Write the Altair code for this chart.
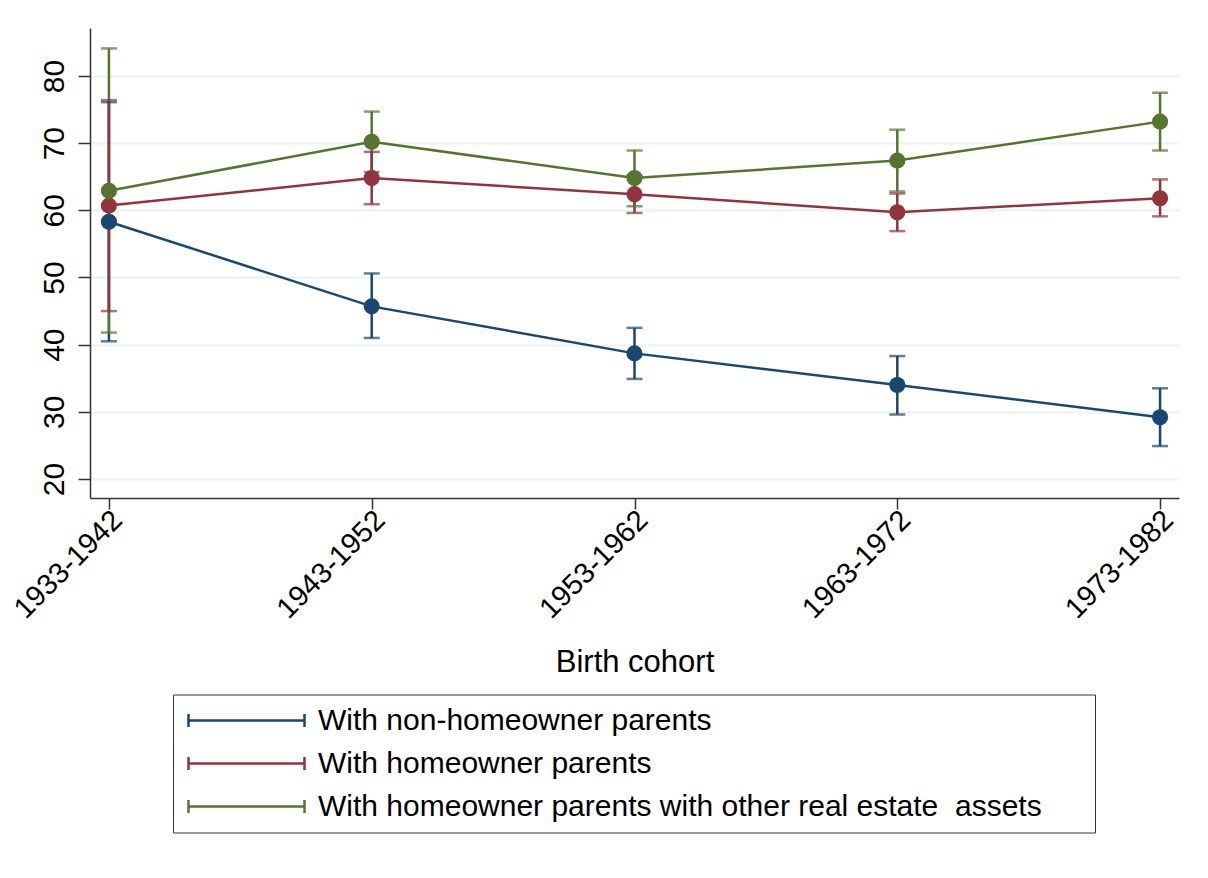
import altair as alt
import pandas as pd

cohorts = ["1933-1942", "1943-1952", "1953-1962", "1963-1972", "1973-1982"]
series = [
    "With non-homeowner parents",
    "With homeowner parents",
    "With homeowner parents with other real estate\u00a0 assets",
]
colors = ["#1a476f", "#90353b", "#55752f"]

blue_mean = [58.3, 45.7, 38.7, 34.0, 29.2]
blue_lo = [40.5, 41.0, 34.9, 29.6, 24.9]
blue_hi = [76.1, 50.6, 42.5, 38.3, 33.5]

red_mean = [60.7, 64.8, 62.4, 59.7, 61.8]
red_lo = [45.0, 60.9, 59.6, 56.9, 59.1]
red_hi = [76.4, 68.7, 65.2, 62.5, 64.6]

green_mean = [62.9, 70.2, 64.8, 67.4, 73.2]
green_lo = [41.8, 65.7, 60.6, 62.8, 68.9]
green_hi = [84.1, 74.7, 68.9, 72.0, 77.5]

y_ticks = [20, 30, 40, 50, 60, 70, 80]

rows = []
for s, m, lo, hi, draw in [
    (series[0], blue_mean, blue_lo, blue_hi, 0),
    (series[1], red_mean, red_lo, red_hi, 2),
    (series[2], green_mean, green_lo, green_hi, 1),
]:
    for c, a, b, d in zip(cohorts, m, lo, hi):
        rows.append({"cohort": c, "series": s, "mean": a, "lo": b, "hi": d, "draw": draw})
df = pd.DataFrame(rows)
df_err = df.sort_values("draw", kind="stable")

FONT = "Liberation Sans"

x_enc = alt.X(
    "cohort:N",
    sort=cohorts,
    scale=alt.Scale(type="point", padding=0.072),
    axis=alt.Axis(
        title="Birth cohort",
        labelAngle=315,
        labelAlign="right",
        labelBaseline="middle",
        labelFont=FONT,
        labelFontSize=29,
        labelColor="black",
        labelPadding=6,
        labelOffset=8,
        tickSize=11,
        tickWidth=1.5,
        tickColor="#333333",
        domainColor="#333333",
        domainWidth=1.5,
        grid=False,
        titleFont=FONT,
        titleFontSize=31,
        titleFontWeight="normal",
        titleColor="black",
        titleY=173,
        titleBaseline="alphabetic",
    ),
)

y_scale = alt.Scale(domain=[17.17, 87.14], nice=False, zero=False)
y_axis = alt.Axis(
    title=None,
    values=y_ticks,
    labelAngle=270,
    labelAlign="center",
    labelBaseline="bottom",
    labelFont=FONT,
    labelFontSize=30,
    labelColor="black",
    labelPadding=9,
    tickSize=12,
    tickWidth=1.5,
    tickColor="#333333",
    domainColor="#333333",
    domainWidth=1.5,
    grid=True,
    gridColor="#eaf2f3",
    gridWidth=2,
)

color_scale = alt.Scale(domain=series, range=colors)
color_nolegend = alt.Color("series:N", scale=color_scale, legend=None)
color_legend = alt.Color(
    "series:N",
    scale=color_scale,
    legend=alt.Legend(
        title=None,
        orient="none",
        legendX=83,
        legendY=666.5,
        direction="vertical",
        symbolType="M-5.8,0H5.8M-5.8,-0.65V0.65M5.8,-0.65V0.65",
        symbolSize=400,
        symbolStrokeWidth=2.5,
        symbolOffset=47.5,
        labelOffset=56.5,
        labelFont=FONT,
        labelFontSize=30,
        labelColor="black",
        labelLimit=2000,
        labelExpr="datum.label + '\u00a0\u00a0\u00a0\u00a0\u00a0\u200b'",
        rowPadding=13,
        padding=11,
        strokeColor="#333333",
        fillColor="white",
    ),
)

err = alt.Chart(df_err).mark_rule(strokeWidth=2.5).encode(
    x=x_enc,
    y=alt.Y("lo:Q", scale=y_scale, axis=y_axis),
    y2="hi:Q",
    color=color_nolegend,
)
cap_lo = alt.Chart(df_err).mark_tick(size=16, thickness=2.5, orient="horizontal").encode(
    x=x_enc, y=alt.Y("lo:Q", scale=y_scale), color=color_nolegend
)
cap_hi = alt.Chart(df_err).mark_tick(size=16, thickness=2.5, orient="horizontal").encode(
    x=x_enc, y=alt.Y("hi:Q", scale=y_scale), color=color_nolegend
)
line = alt.Chart(df).mark_line(strokeWidth=2.5).encode(
    x=x_enc, y=alt.Y("mean:Q", scale=y_scale), color=color_legend
)
pts = alt.Chart(df).mark_circle(size=260, opacity=1).encode(
    x=x_enc, y=alt.Y("mean:Q", scale=y_scale), color=color_nolegend
)

chart = (
    alt.layer(err, cap_lo, cap_hi, line, pts)
    .resolve_legend(color="independent")
    .properties(
        width=1089,
        height=470,
        autosize=alt.AutoSizeParams(type="none"),
        padding={"left": 82, "top": 20, "right": 10, "bottom": 340},
        background="white",
    )
    .configure_view(stroke=None)
)

chart.save("out.html", embed_options={"renderer": "svg", "actions": False})
